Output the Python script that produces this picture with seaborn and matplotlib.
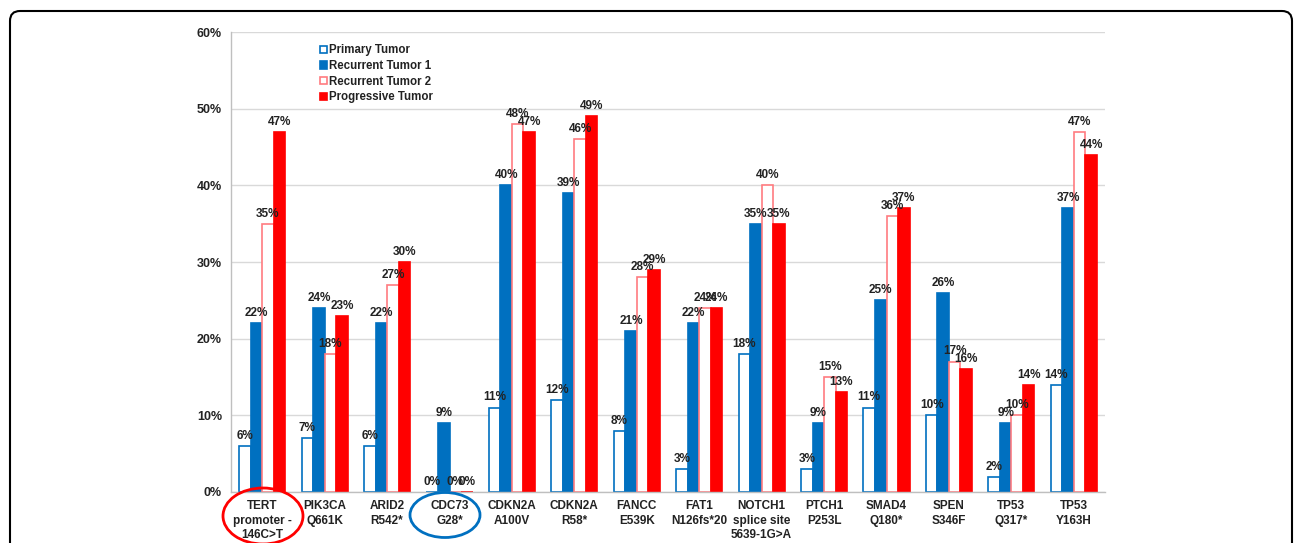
import matplotlib
matplotlib.use('Agg')
import matplotlib.pyplot as plt
import seaborn as sns
import pandas as pd
from matplotlib.patches import Ellipse, FancyBboxPatch, Patch
from matplotlib.transforms import IdentityTransform

# data (percent)
mutations = ['TERT\npromoter -\n146C>T', 'PIK3CA\nQ661K', 'ARID2\nR542*', 'CDC73\nG28*',
             'CDKN2A\nA100V', 'CDKN2A\nR58*', 'FANCC\nE539K', 'FAT1\nN126fs*20',
             'NOTCH1\nsplice site\n5639-1G>A', 'PTCH1\nP253L', 'SMAD4\nQ180*',
             'SPEN\nS346F', 'TP53\nQ317*', 'TP53\nY163H']
tumors = ['Primary Tumor', 'Recurrent Tumor 1', 'Recurrent Tumor 2', 'Progressive Tumor']
primary = [6, 7, 6, 0, 11, 12, 8, 3, 18, 3, 11, 10, 2, 14]
recurrent1 = [22, 24, 22, 9, 40, 39, 21, 22, 35, 9, 25, 26, 9, 37]
recurrent2 = [35, 18, 27, 0, 48, 46, 28, 24, 40, 15, 36, 17, 10, 47]
progressive = [47, 23, 30, 0, 47, 49, 29, 24, 35, 13, 37, 16, 14, 44]

rows = []
for t, vals in zip(tumors, [primary, recurrent1, recurrent2, progressive]):
    for m, v in zip(mutations, vals):
        rows.append({'mutation': m, 'tumor': t, 'value': v})
df = pd.DataFrame(rows)

sns.set_style('white')
plt.rcParams['font.family'] = ['Liberation Sans', 'DejaVu Sans']

fig = plt.figure(figsize=(12.95, 5.43), dpi=100)
ax = fig.add_axes([231 / 1295, 1 - 492 / 543, (1105 - 231) / 1295, (492 - 32) / 543])

sns.barplot(data=df, x='mutation', y='value', hue='tumor', hue_order=tumors,
            order=mutations, width=0.74, ax=ax, legend=False, errorbar=None)

blue = '#0070C0'
red = '#FF0000'
pink = '#FF7C80'
styles = [('white', blue), (blue, blue), ('white', pink), (red, red)]
for cont, (fc, ec) in zip(ax.containers, styles):
    for bar in cont:
        bar.set_facecolor(fc)
        bar.set_edgecolor(ec)
        bar.set_linewidth(1.2)
    ax.bar_label(cont, fmt='%d%%', padding=3, fontsize=8.5, fontweight='bold',
                 color='#222222')

ax.set_ylim(0, 60)
ax.set_xlim(-0.5, len(mutations) - 0.5)
ax.set_yticks(range(0, 61, 10))
ax.set_yticklabels([f'{v}%' for v in range(0, 61, 10)], fontsize=9, fontweight='bold',
                   color='#222222')
ax.set_xticks(range(len(mutations)))
ax.set_xticklabels(mutations, fontsize=8.5, fontweight='bold', color='#222222',
                   linespacing=1.25)
ax.set_xticks([i - 0.5 for i in range(len(mutations) + 1)], minor=True)
ax.tick_params(axis='x', which='major', length=0, pad=6)
ax.tick_params(axis='x', which='minor', length=5, color='#BFBFBF', width=1)
ax.tick_params(axis='y', length=5, color='#BFBFBF', width=1, pad=1.5)
ax.set_xlabel('')
ax.set_ylabel('')
ax.yaxis.grid(True, color='#D9D9D9', linewidth=1)
ax.set_axisbelow(True)
for s in ['top', 'right']:
    ax.spines[s].set_visible(False)
for s in ['left', 'bottom']:
    ax.spines[s].set_color('#BFBFBF')
    ax.spines[s].set_linewidth(1)

handles = [Patch(facecolor=fc, edgecolor=ec, linewidth=1.2) for fc, ec in styles]
leg = ax.legend(handles, tumors, loc='upper left', bbox_to_anchor=(310 / 1295, 1 - 34 / 543),
                bbox_transform=fig.transFigure, frameon=False, handlelength=0.6,
                handleheight=0.6, handletextpad=0.15, labelspacing=0.32,
                prop={'size': 8.3, 'weight': 'bold'})
for txt in leg.get_texts():
    txt.set_color('#222222')

# highlight ellipses around two x labels
fig.add_artist(Ellipse((263 / 1295, 1 - 516 / 543), 80 / 1295, 56 / 543,
                       transform=fig.transFigure, fill=False, edgecolor=red, linewidth=2))
fig.add_artist(Ellipse((445 / 1295, 1 - 515 / 543), 70 / 1295, 45 / 543,
                       transform=fig.transFigure, fill=False, edgecolor=blue, linewidth=2))

# rounded outer frame
fig.add_artist(FancyBboxPatch((10, -30), 1282, 543 - 11 + 30,
                              boxstyle='round,pad=0,rounding_size=10',
                              transform=IdentityTransform(), fill=False,
                              edgecolor='black', linewidth=1.5))

fig.savefig('out.png', dpi=100)
